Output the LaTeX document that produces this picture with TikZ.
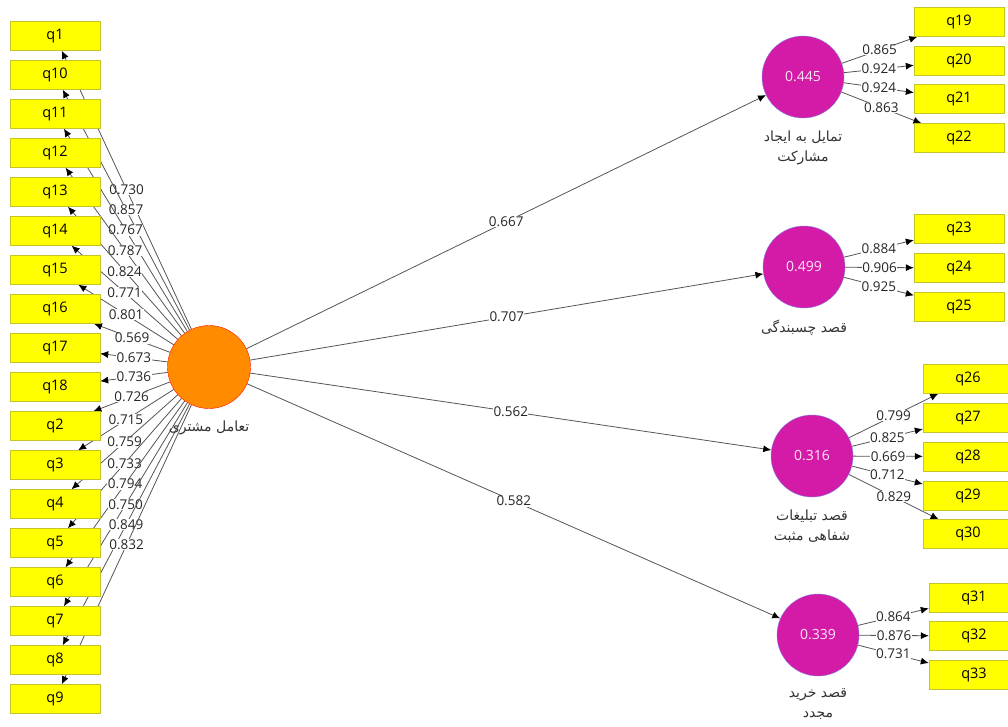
\documentclass[tikz,border=0pt]{standalone}
\usepackage{fontspec}
\setmainfont{Open Sans}
\newfontfamily\fafont[Script=Arabic]{DejaVu Sans}
\TeXXeTstate=1
\usetikzlibrary{arrows.meta,positioning,backgrounds}
\definecolor{itemyellow}{RGB}{255,255,0}
\definecolor{itemedge}{RGB}{196,196,40}
\definecolor{lvmagenta}{RGB}{211,27,167}
\definecolor{lvedge}{RGB}{130,130,235}
\definecolor{lvorange}{RGB}{255,140,0}
\definecolor{pathgray}{RGB}{85,85,85}
\tikzset{
  item/.style={draw=itemedge, fill=itemyellow, minimum width=90pt, minimum height=29pt, inner sep=0pt, font=\fontsize{14.5}{16}\selectfont},
  latent/.style={circle, draw=lvedge, fill=lvmagenta, minimum size=82pt, inner sep=0pt, text=white!90!lvmagenta, font=\fontsize{14}{16}\selectfont},
  exo/.style={circle, draw=red!85!orange, fill=lvorange, minimum size=83pt, inner sep=0pt},
  loading/.style={-{Latex[length=8pt,width=7pt,color=black]}, draw=pathgray, line width=0.8pt},
  coef/.style={fill=white, inner sep=0.5pt, font=\fontsize{13.5}{15}\selectfont, text=black!85},
  lvname/.style={align=center, inner sep=1pt, text=black!80, font=\fafont\fontsize{14}{20}\selectfont}
}

\begin{document}
\begin{tikzpicture}[x=1pt, y=-1pt]
\useasboundingbox (0,0) rectangle (1008,726);

% latent variables
\node[exo] (cust) at (209,367) {};
\node[lvname, below=11pt of cust] {\beginR تعامل مشتری\endR};
\node[latent] (lv1) at (803,77) {0.445};
\node[latent] (lv2) at (804,267) {0.499};
\node[latent] (lv3) at (812,456) {0.316};
\node[latent] (lv4) at (818,635) {0.339};
\node[lvname, below=11pt of lv1] {\beginR تمایل به ایجاد\endR\\\beginR مشارکت\endR};
\node[lvname, below=11pt of lv2] {\beginR قصد چسبندگی\endR};
\node[lvname, below=11pt of lv3] {\beginR قصد تبلیغات\endR\\\beginR شفاهی مثبت\endR};
\node[lvname, below=11pt of lv4] {\beginR قصد خرید\endR\\\beginR مجدد\endR};

% indicators
\foreach \q [count=\i from 0] in {q1,q10,q11,q12,q13,q14,q15,q16,q17,q18,q2,q3,q4,q5,q6,q7,q8,q9}
  \node[item] (\q) at (55,{36+39*\i}) {\q};
\foreach \q/\y in {q19/22, q20/60.5, q21/99, q22/138, q23/229, q24/268, q25/307}
  \node[item] (\q) at (959,\y) {\q};
\foreach \q/\y in {q26/379, q27/418, q28/456.5, q29/495.5, q30/534}
  \node[item] (\q) at (968,\y) {\q};
\foreach \q/\y in {q31/597.5, q32/636, q33/674.5}
  \node[item] (\q) at (974,\y) {\q};

\begin{scope}[on background layer]
% outer loadings
\foreach \q/\v in {q1/0.730, q10/0.857, q11/0.767, q12/0.787, q13/0.824, q14/0.771, q15/0.801, q16/0.569, q17/0.673,
    q18/0.736, q2/0.726, q3/0.715, q4/0.759, q5/0.733, q6/0.794, q7/0.750, q8/0.849, q9/0.832}
  \draw[loading] (cust) -- node[coef] {\v} (\q);
\foreach \q/\v in {q19/0.865, q20/0.924, q21/0.924, q22/0.863}
  \draw[loading] (lv1) -- node[coef] {\v} (\q);
\foreach \q/\v in {q23/0.884, q24/0.906, q25/0.925}
  \draw[loading] (lv2) -- node[coef] {\v} (\q);
\foreach \q/\v in {q26/0.799, q27/0.825, q28/0.669, q29/0.712, q30/0.829}
  \draw[loading] (lv3) -- node[coef] {\v} (\q);
\foreach \q/\v in {q31/0.864, q32/0.876, q33/0.731}
  \draw[loading] (lv4) -- node[coef] {\v} (\q);
% path coefficients
\draw[loading] (cust) -- node[coef] {0.667} (lv1);
\draw[loading] (cust) -- node[coef] {0.707} (lv2);
\draw[loading] (cust) -- node[coef] {0.562} (lv3);
\draw[loading] (cust) -- node[coef] {0.582} (lv4);
\end{scope}
\end{tikzpicture}
\end{document}
